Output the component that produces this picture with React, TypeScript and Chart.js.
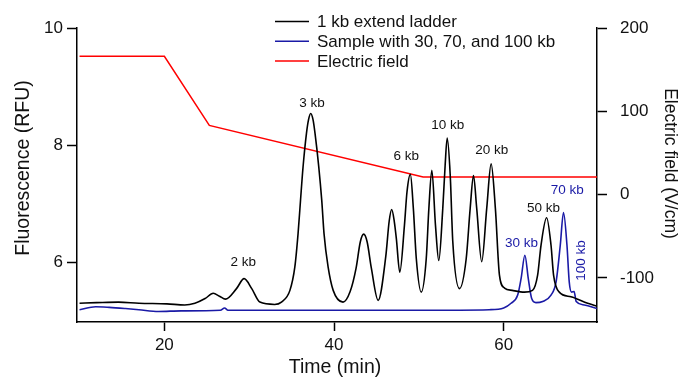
import React, { useEffect, useRef } from "react";
import { Chart, registerables } from "chart.js";

Chart.register(...registerables);

const ladderTime = [10, 12, 14.6, 17, 20.3, 22.4, 23.6, 24.8, 25.76, 26.5, 27.2, 28.5, 29.4, 30.3, 31.26, 33.0, 33.8, 34.8, 35.38, 35.76, 36.05, 36.35, 36.75, 36.99, 37.25, 37.53, 37.76, 38.2, 38.55, 38.82, 39.3, 39.9, 41.06, 41.9, 42.6, 43.1, 43.5, 43.9, 44.4, 45.2, 46.1, 46.5, 46.8, 47.1, 47.35, 47.75, 48.3, 48.6, 49.0, 49.35, 49.7, 50.28, 50.87, 51.18, 51.53, 51.96, 52.35, 52.82, 53.1, 53.34, 53.7, 54.0, 54.79, 55.58, 56.05, 56.44, 56.82, 57.41, 58.0, 58.52, 59.02, 59.5, 60.1, 61.0, 62.45, 63.4, 64.0, 64.4, 65.06, 65.58, 65.88, 66.55, 67.93, 69.9, 71];
const ladderRFU = [5.30, 5.31, 5.32, 5.30, 5.29, 5.27, 5.30, 5.38, 5.47, 5.42, 5.37, 5.55, 5.72, 5.55, 5.32, 5.28, 5.32, 5.52, 5.92, 6.49, 7.06, 7.63, 8.20, 8.43, 8.54, 8.43, 8.20, 7.63, 7.06, 6.49, 5.92, 5.52, 5.32, 5.50, 5.90, 6.35, 6.48, 6.35, 5.90, 5.35, 6.10, 6.70, 6.90, 6.70, 6.40, 5.83, 6.63, 7.20, 7.50, 6.92, 6.06, 5.49, 6.06, 6.92, 7.57, 6.63, 6.03, 6.92, 7.66, 8.12, 7.48, 6.35, 5.55, 6.06, 6.92, 7.48, 6.92, 6.01, 6.92, 7.68, 6.92, 5.78, 5.56, 5.52, 5.49, 5.52, 5.78, 6.29, 6.76, 6.29, 5.78, 5.49, 5.41, 5.30, 5.25];

const sampleTime = [10, 11.9, 13.5, 15.4, 17, 19.3, 22, 26.6, 27.1, 27.5, 30, 40, 50, 58.3, 60, 60.87, 61.65, 62.05, 62.5, 62.9, 63.3, 63.8, 64.6, 65.58, 66.17, 66.67, 67.05, 67.46, 67.73, 68.0, 68.3, 68.55, 69.5, 71];
const sampleRFU = [5.19, 5.24, 5.23, 5.21, 5.19, 5.16, 5.17, 5.18, 5.22, 5.18, 5.18, 5.18, 5.18, 5.19, 5.22, 5.30, 5.44, 5.72, 6.12, 5.72, 5.38, 5.31, 5.33, 5.44, 5.66, 6.29, 6.85, 6.29, 5.66, 5.49, 5.50, 5.33, 5.27, 5.21];

const fieldTime = [10, 20, 25.3, 50.5, 71];
const fieldVcm = [166, 166, 83, 21, 21];

const seriesNames = ["1 kb extend ladder", "Sample with 30, 70, and 100 kb", "Electric field"];
const seriesColors = ["#000000", "#1a1aa6", "#ff0000"];

const peakLabels = ["2 kb", "3 kb", "6 kb", "10 kb", "20 kb", "50 kb", "30 kb", "70 kb", "100 kb"];
const peakTime = [29.3, 37.4, 48.5, 53.4, 58.6, 64.7, 62.1, 67.5, 69.15];
const peakRFU = [6.0, 8.72, 7.81, 8.34, 7.91, 6.92, 6.32, 7.23, 6.03];
const peakSeries = [0, 0, 0, 0, 0, 0, 1, 1, 1];

const xTicks = [20, 40, 60];
const yTicks = [6, 8, 10];
const y2Ticks = [-100, 0, 100, 200];

const xTitle = "Time (min)";
const yTitle = "Fluorescence (RFU)";
const y2Title = "Electric field (V/cm)";

const FONT = "'Liberation Sans', Arial, sans-serif";

const annotationPlugin = {
  id: "peakAnnotations",
  afterDatasetsDraw(chart: any) {
    const { ctx, scales } = chart;
    ctx.save();
    ctx.font = `13.5px ${FONT}`;
    ctx.textAlign = "center";
    ctx.textBaseline = "middle";
    peakLabels.forEach((txt, i) => {
      const px = scales.x.getPixelForValue(peakTime[i]);
      const py = scales.y.getPixelForValue(peakRFU[i]);
      ctx.fillStyle = peakSeries[i] === 0 ? "#111" : seriesColors[1];
      if (txt === "100 kb") {
        ctx.save();
        ctx.translate(px, py);
        ctx.rotate(-Math.PI / 2);
        ctx.fillText(txt, 0, 0);
        ctx.restore();
      } else {
        ctx.fillText(txt, px, py);
      }
    });
    ctx.restore();
  },
};

const titlesPlugin = {
  id: "axisTitles",
  afterDraw(chart: any) {
    const { ctx } = chart;
    ctx.save();
    ctx.fillStyle = "#111";
    ctx.textAlign = "center";
    ctx.textBaseline = "middle";
    ctx.font = `19.5px ${FONT}`;
    ctx.fillText(xTitle, 335, 368);
    ctx.save();
    ctx.translate(24, 168);
    ctx.rotate(-Math.PI / 2);
    ctx.fillText(yTitle, 0, 0);
    ctx.restore();
    ctx.save();
    ctx.font = `17.5px ${FONT}`;
    ctx.translate(670, 163.5);
    ctx.rotate(Math.PI / 2);
    ctx.fillText(y2Title, 0, 0);
    ctx.restore();
    ctx.restore();
  },
};

const legendPlugin = {
  id: "customLegend",
  afterDraw(chart: any) {
    const { ctx } = chart;
    ctx.save();
    ctx.font = `17px ${FONT}`;
    ctx.textAlign = "left";
    ctx.textBaseline = "middle";
    const x0 = 275;
    const y0 = 21.5;
    const gap = 19.8;
    seriesNames.forEach((name, i) => {
      const y = y0 + i * gap;
      ctx.strokeStyle = seriesColors[i];
      ctx.lineWidth = 1.5;
      ctx.beginPath();
      ctx.moveTo(x0, y);
      ctx.lineTo(x0 + 34, y);
      ctx.stroke();
      ctx.fillStyle = "#111";
      ctx.fillText(name, x0 + 42, y + 1);
    });
    ctx.restore();
  },
};

export default function App() {
  const ref = useRef<HTMLCanvasElement | null>(null);
  useEffect(() => {
    if (!ref.current) return;
    const chart = new Chart(ref.current, {
      type: "line",
      data: {
        datasets: [
          {
            label: seriesNames[0],
            data: ladderTime.map((t, i) => ({ x: t, y: ladderRFU[i] })),
            borderColor: seriesColors[0],
            borderWidth: 1.6,
            pointRadius: 0,
            cubicInterpolationMode: "monotone",
            yAxisID: "y",
          },
          {
            label: seriesNames[1],
            data: sampleTime.map((t, i) => ({ x: t, y: sampleRFU[i] })),
            borderColor: seriesColors[1],
            borderWidth: 1.6,
            pointRadius: 0,
            cubicInterpolationMode: "monotone",
            yAxisID: "y",
          },
          {
            label: seriesNames[2],
            data: fieldTime.map((t, i) => ({ x: t, y: fieldVcm[i] })),
            borderColor: seriesColors[2],
            borderWidth: 1.5,
            pointRadius: 0,
            tension: 0,
            yAxisID: "y2",
          },
        ],
      },
      options: {
        animation: false,
        responsive: false,
        maintainAspectRatio: false,
        layout: { padding: { top: 28, left: 0, right: 0, bottom: 0 } },
        plugins: { legend: { display: false }, tooltip: { enabled: false } },
        scales: {
          x: {
            type: "linear",
            min: 9.7,
            max: 71,
            afterBuildTicks: (s: any) => { s.ticks = xTicks.map((v) => ({ value: v })); },
            afterFit: (s: any) => { s.height = 59; },
            grid: { drawOnChartArea: false, drawTicks: true, tickLength: 9, tickColor: "#000", tickWidth: 1.5 },
            border: { display: true, color: "#000", width: 1.5 },
            ticks: { color: "#111", font: { family: FONT, size: 17 }, padding: 4, maxRotation: 0 },
          },
          y: {
            type: "linear",
            position: "left",
            min: 4.98,
            max: 10,
            afterBuildTicks: (s: any) => { s.ticks = yTicks.map((v) => ({ value: v })); },
            afterFit: (s: any) => { s.width = 77; },
            grid: { drawOnChartArea: false, drawTicks: true, tickLength: 10, tickColor: "#000", tickWidth: 1.5 },
            border: { display: true, color: "#000", width: 1.5 },
            ticks: { color: "#111", font: { family: FONT, size: 17 }, padding: 4 },
          },
          y2: {
            type: "linear",
            position: "right",
            min: -153,
            max: 200,
            afterBuildTicks: (s: any) => { s.ticks = y2Ticks.map((v) => ({ value: v })); },
            afterFit: (s: any) => { s.width = 88; },
            grid: { drawOnChartArea: false, drawTicks: true, tickLength: 10, tickColor: "#000", tickWidth: 1.5 },
            border: { display: true, color: "#000", width: 1.5 },
            ticks: { color: "#111", font: { family: FONT, size: 17 }, padding: 13 },
          },
        },
      },
      plugins: [annotationPlugin, titlesPlugin, legendPlugin],
    } as any);
    return () => chart.destroy();
  }, []);
  return (
    <div style={{ position: "fixed", left: 0, top: 0, width: 685, height: 381, background: "#fff" }}>
      <canvas ref={ref} width={685} height={381} style={{ width: 685, height: 381, display: "block" }} />
    </div>
  );
}
